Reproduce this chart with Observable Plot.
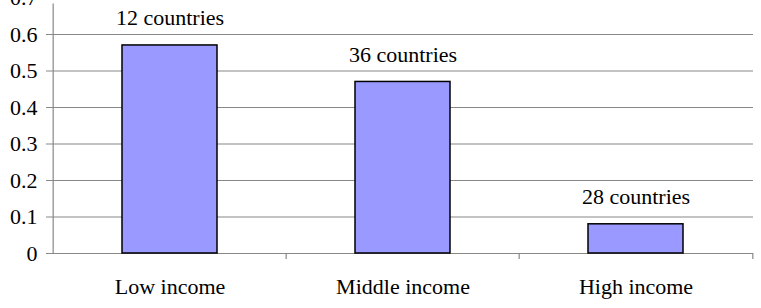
<!DOCTYPE html>
<html>
<head>
<meta charset="utf-8">
<script src="https://cdn.jsdelivr.net/npm/d3@7"></script>
<script src="https://cdn.jsdelivr.net/npm/@observablehq/plot@0.6"></script>
<style>
  html, body { margin: 0; padding: 0; background: #fff; }
  #chart svg { display: block; }
  #chart svg, #chart svg text { font-family: "Liberation Serif", "Times New Roman", Times, serif !important; }
</style>
</head>
<body>
<div id="chart"></div>
<script>
const categories = ["Low income", "Middle income", "High income"];
const values = [0.57, 0.47, 0.08];
const countLabels = ["12 countries", "36 countries", "28 countries"];
const yTicks = [0, 0.1, 0.2, 0.3, 0.4, 0.5, 0.6, 0.7];

const data = categories.map((c, i) => ({category: c, value: values[i], label: countLabels[i]}));

const W = 761, H = 308;
const x0 = 52, x1 = 753;
const step = (x1 - x0) / categories.length;
const font = "Liberation Serif, Times New Roman, serif";

const chart = Plot.plot({
  width: W,
  height: H,
  marginLeft: x0,
  marginRight: W - x1,
  marginTop: 0,
  marginBottom: 55,
  style: {fontFamily: font, fontSize: "22px", color: "#000", background: "#fff", overflow: "visible"},
  x: {domain: categories, range: [x0, x1], paddingInner: 0.594, paddingOuter: 0.297},
  y: {domain: [0, 0.7], range: [253, -2.5]},
  marks: [
    Plot.ruleY(yTicks, {y: d => d, stroke: "#888", strokeWidth: 1.2, insetLeft: -6}),
    Plot.ruleX([categories[0]], {x: d => d, y1: 0, y2: 0.7, dx: -step / 2, stroke: "#888", strokeWidth: 1.2, insetBottom: -6}),
    Plot.ruleX(categories.slice(1), {x: d => d, y1: 0, y2: 0, dx: -step / 2, stroke: "#888", strokeWidth: 1.2, insetBottom: -6}),
    Plot.ruleX([categories[categories.length - 1]], {x: d => d, y1: 0, y2: 0, dx: step / 2, stroke: "#888", strokeWidth: 1.2, insetBottom: -6}),
    Plot.barY(data, {x: "category", y: "value", fill: "#9999FF", stroke: "#000", strokeWidth: 1.5}),
    Plot.text(data, {x: "category", y: "value", text: "label", dy: -27, fontSize: 22, fontFamily: font, fill: "#000"}),
    Plot.axisY(yTicks, {tickSize: 0, tickPadding: 15, fontSize: 22, fontFamily: font, label: null, tickFormat: d => d === 0 ? "0" : d.toFixed(1)}),
    Plot.axisX({tickSize: 0, tickPadding: 25, fontSize: 22, fontFamily: font, label: null})
  ]
});
document.getElementById("chart").appendChild(chart);
</script>
</body>
</html>
